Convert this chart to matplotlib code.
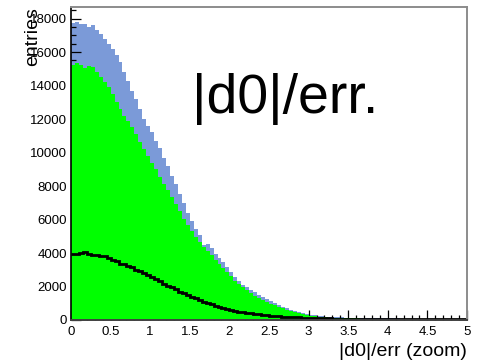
import numpy as np
import matplotlib
matplotlib.use("Agg")
import matplotlib.pyplot as plt
from matplotlib.ticker import MultipleLocator

# |d0|/err distribution, 100 bins from 0 to 5
bin_edges = np.linspace(0.0, 5.0, 101)

all_tracks = [
    17750, 17800, 17700, 17650, 17500, 17600, 17300, 17100, 16800, 16500,
    16200, 15800, 15400, 14800, 14300, 13700, 13200, 12600, 12000, 11600,
    11200, 10700, 10300, 9700, 9200, 8600, 8100, 7500, 7000, 6400,
    5900, 5450, 5050, 4500, 4550, 4300, 3950, 3700, 3450, 3150,
    2850, 2550, 2300, 2100, 1950, 1800, 1650, 1520, 1400, 1260,
    1130, 1010, 900, 800, 700, 620, 540, 480, 420, 370,
    320, 280, 250, 225, 205, 185, 172, 160, 150, 142,
    135, 128, 122, 118, 114, 110, 106, 102, 100, 98,
    95, 93, 91, 89, 87, 85, 84, 82, 80, 80,
    78, 77, 76, 75, 74, 73, 72, 71, 70, 70,
]

selected = [
    15250, 15350, 15200, 15050, 15150, 15100, 14800, 14500, 14200, 13900,
    13500, 13000, 12600, 12200, 11900, 11500, 11100, 10600, 10200, 9800,
    9400, 9000, 8550, 8150, 7750, 7350, 6950, 6500, 6050, 5650,
    5300, 4950, 4650, 4350, 4100, 3900, 3600, 3350, 3100, 2850,
    2600, 2350, 2150, 1950, 1780, 1600, 1450, 1320, 1200, 1080,
    980, 880, 780, 690, 600, 520, 450, 390, 340, 290,
    250, 220, 190, 170, 150, 135, 125, 115, 105, 100,
    95, 90, 90, 85, 85, 80, 80, 75, 75, 75,
    70, 70, 70, 65, 65, 65, 60, 60, 60, 60,
    55, 55, 55, 55, 50, 50, 50, 50, 50, 50,
]

subset = [
    3950, 3950, 4000, 4050, 3950, 3900, 3900, 3850, 3850, 3700,
    3600, 3500, 3350, 3350, 3250, 3150, 3000, 2900, 2800, 2700,
    2550, 2450, 2300, 2150, 2050, 2000, 1850, 1700, 1600, 1500,
    1400, 1300, 1200, 1100, 1020, 950, 860, 790, 720, 660,
    600, 550, 500, 460, 420, 390, 360, 330, 300, 280,
    260, 240, 220, 200, 190, 175, 160, 150, 140, 130,
    120, 110, 105, 100, 95, 90, 85, 80, 78, 75,
    72, 70, 68, 65, 62, 60, 58, 56, 55, 53,
    52, 50, 50, 48, 47, 46, 45, 44, 43, 42,
    41, 40, 40, 39, 38, 38, 37, 36, 36, 35,
]

x_ticks = [0, 0.5, 1, 1.5, 2, 2.5, 3, 3.5, 4, 4.5, 5]
x_tick_labels = ["0", "0.5", "1", "1.5", "2", "2.5", "3", "3.5", "4", "4.5", "5"]
y_ticks = [0, 2000, 4000, 6000, 8000, 10000, 12000, 14000, 16000, 18000]

plt.rcParams["font.family"] = ["Liberation Sans", "DejaVu Sans"]

fig = plt.figure(figsize=(4.93, 3.60), dpi=100)
ax = fig.add_axes([71 / 493, 40 / 360, 396 / 493, 313 / 360])

ax.stairs(all_tracks, bin_edges, fill=True, color="#7b9ad8", zorder=1)
ax.stairs(selected, bin_edges, fill=True, color="#00ff00", zorder=2)
ax.stairs(subset, bin_edges, fill=False, baseline=None, color="black",
          linewidth=2.0, zorder=3)

ax.set_xlim(0, 5)
ax.set_ylim(0, max(all_tracks) * 1.05)

ax.set_xticks(x_ticks)
ax.set_xticklabels(x_tick_labels)
ax.set_yticks(y_ticks)
ax.set_yticklabels([str(v) for v in y_ticks])
ax.xaxis.set_minor_locator(MultipleLocator(0.1))
ax.yaxis.set_minor_locator(MultipleLocator(500))

ax.tick_params(which="both", direction="in", top=False, right=False,
               labelsize=9.5, width=0.9, color="black")
ax.tick_params(which="major", length=7.0)
ax.tick_params(which="minor", length=3.5)
ax.tick_params(axis="y", pad=3)
ax.tick_params(axis="x", pad=4)

ax.spines["left"].set_color("black")
ax.spines["left"].set_linewidth(1.2)
ax.spines["bottom"].set_color("#404040")
ax.spines["bottom"].set_linewidth(1.4)
ax.spines["top"].set_color("#8c8c8c")
ax.spines["right"].set_color("#8c8c8c")
ax.spines["top"].set_linewidth(1.4)
ax.spines["right"].set_linewidth(1.4)
for s in ax.spines.values():
    s.set_zorder(5)

fig.text(192 / 493, (360 - 113) / 360, "|d0|/err.", fontsize=40,
         ha="left", va="baseline", color="black")
fig.text(33 / 493, (360 - 7) / 360, "entries", fontsize=14, rotation=90,
         ha="center", va="top")
fig.text(467 / 493, (360 - 356) / 360, "|d0|/err (zoom)", fontsize=14,
         ha="right", va="baseline")

fig.savefig("out.png", dpi=100)
